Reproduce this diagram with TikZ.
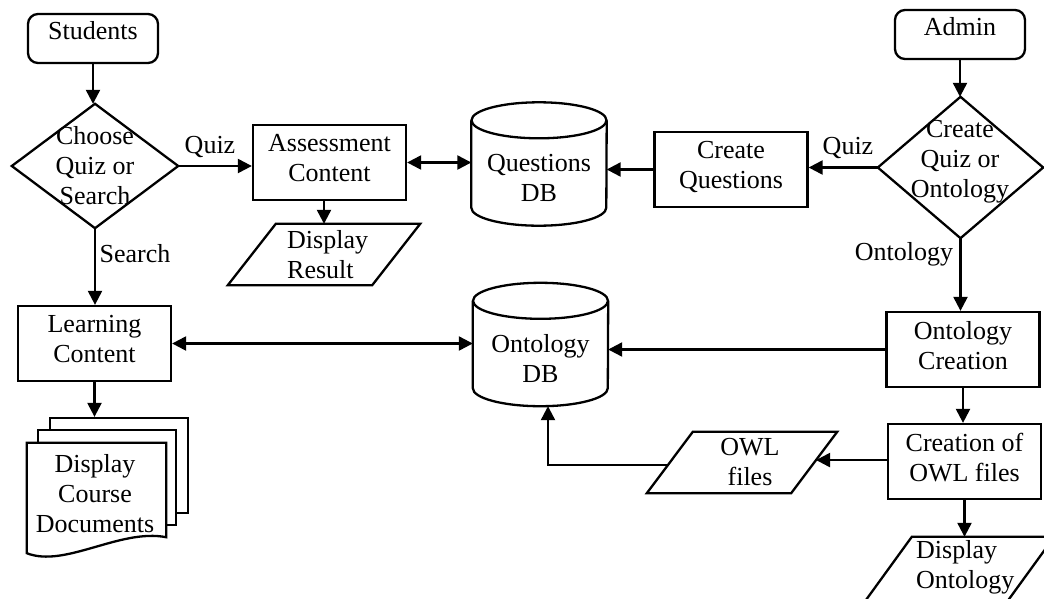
\documentclass[tikz,border=0pt]{standalone}
\usepackage{fontspec}
\setmainfont{Liberation Serif}
\usetikzlibrary{arrows.meta,calc}

\tikzset{
  every node/.style={font=\fontsize{26}{30}\selectfont, align=center, inner sep=0pt},
  stroke/.style={line width=2.3pt, draw=black},
  flow/.style={stroke, -{Triangle[length=14pt,width=14pt]}},
  dflow/.style={stroke, {Triangle[length=14pt,width=14pt]}-{Triangle[length=14pt,width=14pt]}},
  term/.style={stroke, rounded corners=10pt, minimum width=130pt, minimum height=49pt,
               text height=12pt, text depth=10pt},
  proc/.style={stroke, minimum width=153pt, minimum height=75pt, execute at end node=\strut},
  frame/.style={minimum width=#1},
  io/.style={minimum height=61pt},
  dbframe/.style={minimum width=135pt, minimum height=123pt},
  sheet/.style={stroke, fill=white, minimum width=138pt, minimum height=95pt},
  lbl/.style={anchor=base},
  lefttext/.style={anchor=west, align=left}
}

% outline helpers drawn around invisible named nodes
\newcommand\decisionoutline[1]{\draw[stroke] (#1.north) -- (#1.east) -- (#1.south) -- (#1.west) -- cycle;}
\newcommand\slantoutline[2]{\draw[stroke] ([xshift=#2]#1.north west) -- (#1.north east) -- ([xshift=-#2]#1.south east) -- (#1.south west) -- cycle;}
\newcommand\dboutline[1]{%
  \draw[stroke] ([yshift=-18pt]#1.north west) -- ([yshift=18pt]#1.south west)
     arc[start angle=180, end angle=360, x radius=67.5pt, y radius=18pt]
     -- ([yshift=-18pt]#1.north east);
  \draw[stroke] ([yshift=-18pt]#1.north) ellipse [x radius=67.5pt, y radius=18pt];}

\begin{document}
\begin{tikzpicture}[x=1pt, y=-1pt]
\useasboundingbox (0,0) rectangle (1044,598);
\clip (0,0) rectangle (1044,598);

% ---- student side ----
\node[term] (stu) at (93,38.5) {Students};
\node[minimum width=166pt, minimum height=124pt] (d1) at (95,166) {Choose\\Quiz or\\Search};
\decisionoutline{d1}
\node[proc] (ac) at (329.5,162.5) {Assessment\\Content};
\node[io, frame=192pt] (dr) at (324,254.5) {};
\slantoutline{dr}{48pt}
\node[lefttext] (drt) at (287,254.5) {Display\\Result};
\node[proc] (lc) at (94.5,343.5) {Learning\\Content};

% stacked course documents
\node[sheet] (docsB) at (119,465.5) {};
\node[sheet] (docsM) at (107,477.5) {};
\node[minimum width=139pt, minimum height=100pt] (docs) at (96.5,493) {};
\draw[stroke, fill=white] (docs.north west) -- (docs.north east) -- ([yshift=6pt]docs.south east)
  .. controls ([xshift=-46pt,yshift=15pt]docs.south east) and ([xshift=38pt,yshift=-25pt]docs.south west)
  .. ([yshift=-10pt]docs.south west) -- cycle;
\node (docst) at (95,494) {Display\\Course\\Documents};

% ---- databases ----
\node[dbframe] (qdb) at (539,164) {};
\dboutline{qdb}
\node (qdbt) at (539,178) {Questions\\DB};
\node[dbframe] (odb) at (540.5,344.5) {};
\dboutline{odb}
\node (odbt) at (540.5,358.5) {Ontology\\DB};

% ---- admin side ----
\node[term] (adm) at (960,34.5) {Admin};
\node[minimum width=165pt, minimum height=141pt] (d2) at (960.5,167.5) {};
\decisionoutline{d2}
\node (d2t) at (960,161.5) {Create\\Quiz or\\Ontology};
\node[proc] (cq) at (731,169.5) {Create\\Questions};
\node[proc] (oc) at (963,349.5) {Ontology\\Creation};
\node[proc] (cowl) at (964.5,461.5) {Creation of\\OWL files};
\node[io, frame=190pt] (owl) at (742,462.5) {};
\slantoutline{owl}{46pt}
\node (owlt) at (750,462.5) {OWL\\files};
\node[minimum height=63pt, frame=188pt] (do) at (960,568.5) {};
\slantoutline{do}{46pt}
\node[lefttext] (dot) at (916,567.5) {Display\\Ontology};

% ---- connectors ----
\draw[flow] (stu.south) -- (stu.south |- d1.north);
\draw[flow] (d1.east) -- (d1.east -| ac.west);
\node[lbl] (lquiz) at (210,153) {Quiz};
\draw[flow] (d1.south) -- (d1.south |- lc.north);
\node[lbl] (lsearch) at (135,262) {Search};
\draw[flow] (dr.north |- ac.south) -- (dr.north);
\draw[dflow] (ac.east) -- (ac.east -| qdb.west);
\draw[dflow] (lc.east) -- (lc.east -| odb.west);
\draw[flow] (lc.south) -- (lc.south |- docsB.north);

\draw[flow] (adm.south) -- (adm.south |- d2.north);
\draw[flow] (d2.west) -- (d2.west -| cq.east);
\node[lbl] (rquiz) at (848,154) {Quiz};
\draw[flow] (cq.west) -- (cq.west -| qdb.east);
\draw[flow] (d2.south) -- (d2.south |- oc.north);
\node[lbl] (ronto) at (904,260) {Ontology};
\draw[flow] (oc.west) -- (oc.west -| odb.east);
\draw[flow] (oc.south) -- (oc.south |- cowl.north);
\draw[flow] (cowl.south) -- (cowl.south |- do.north);
\coordinate (owlR) at ($(owl.north east)!0.46!([xshift=-46pt]owl.south east)$);
\coordinate (owlL) at ($([xshift=46pt]owl.north west)!0.54!(owl.south west)$);
\draw[flow] (cowl.west |- owlR) -- (owlR);
\draw[flow] (owlL) -| ([xshift=7.5pt]odb.south);
\end{tikzpicture}
\end{document}
